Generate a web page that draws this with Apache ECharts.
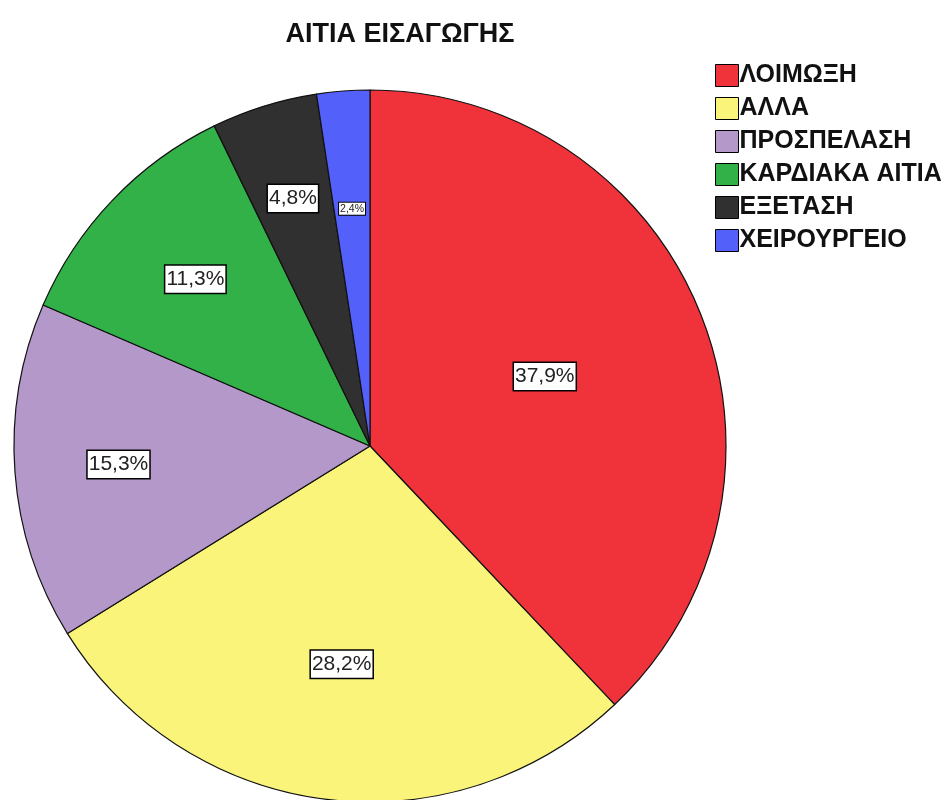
<!DOCTYPE html>
<html>
<head>
<meta charset="utf-8">
<title>ΑΙΤΙΑ ΕΙΣΑΓΩΓΗΣ</title>
<script src="https://cdn.jsdelivr.net/npm/echarts@6/dist/echarts.min.js"></script>
<style>
  html, body { margin: 0; padding: 0; background: #fff; }
  #chart { width: 945px; height: 800px; }
</style>
</head>
<body>
<div id="chart"></div>
<script>
// Admission causes (percent of cases)
const categories = ['ΛΟΙΜΩΞΗ', 'ΑΛΛΑ', 'ΠΡΟΣΠΕΛΑΣΗ', 'ΚΑΡΔΙΑΚΑ ΑΙΤΙΑ', 'ΕΞΕΤΑΣΗ', 'ΧΕΙΡΟΥΡΓΕΙΟ'];
const percentages = [37.9, 28.2, 15.3, 11.3, 4.8, 2.4];
const sliceColors = ['#F0323B', '#FAF57A', '#B398C9', '#32B149', '#303030', '#5460FA'];

// Where each value label sits along its slice, as a fraction of the radius
const labelRadius = [0.52, 0.61, 0.70, 0.67, 0.72, 0.66];

const pieCenter = [370, 446];
const pieRadius = 356;

const total = percentages.reduce((a, b) => a + b, 0);
let cumulative = 0;
const seriesData = categories.map((name, i) => {
  const v = percentages[i];
  const mid = (cumulative + v / 2) / total * 2 * Math.PI;
  cumulative += v;
  const shift = (labelRadius[i] - 0.5) * pieRadius;
  const small = v < 3;
  return {
    name: name,
    value: v,
    itemStyle: { color: sliceColors[i] },
    label: {
      offset: [shift * Math.sin(mid), -shift * Math.cos(mid)],
      fontSize: small ? 10.5 : 21,
      padding: small ? [1, 1, 0, 1] : [4, 1, 2, 1],
      borderWidth: small ? 1 : 1.5
    }
  };
});

const chart = echarts.init(document.getElementById('chart'), null, { renderer: 'canvas' });
chart.setOption({
  backgroundColor: '#ffffff',
  animation: false,
  title: {
    text: 'ΑΙΤΙΑ ΕΙΣΑΓΩΓΗΣ',
    left: 395,
    textAlign: 'center',
    top: 16,
    textStyle: {
      fontFamily: 'Liberation Sans, Arial, sans-serif',
      fontSize: 27,
      fontWeight: 'bold',
      color: '#111'
    }
  },
  legend: {
    orient: 'vertical',
    left: 710,
    top: 58,
    itemWidth: 23,
    itemHeight: 22,
    itemGap: 8,
    icon: 'rect',
    selectedMode: false,
    itemStyle: { borderColor: '#000', borderWidth: 1 },
    textStyle: {
      fontFamily: 'Liberation Sans, Arial, sans-serif',
      fontSize: 25,
      fontWeight: 'bold',
      color: '#111',
      padding: [0, 0, 0, -4]
    },
    data: categories
  },
  series: [{
    type: 'pie',
    center: pieCenter,
    radius: pieRadius,
    startAngle: 90,
    clockwise: true,
    avoidLabelOverlap: false,
    itemStyle: { borderColor: '#111', borderWidth: 1.2 },
    emphasis: { disabled: true },
    label: {
      show: true,
      position: 'inside',
      formatter: p => p.value.toFixed(1).replace('.', ',') + '%',
      fontFamily: 'Liberation Sans, Arial, sans-serif',
      color: '#222',
      backgroundColor: '#ffffff',
      borderColor: '#000'
    },
    labelLine: { show: false },
    data: seriesData
  }]
});
</script>
</body>
</html>
